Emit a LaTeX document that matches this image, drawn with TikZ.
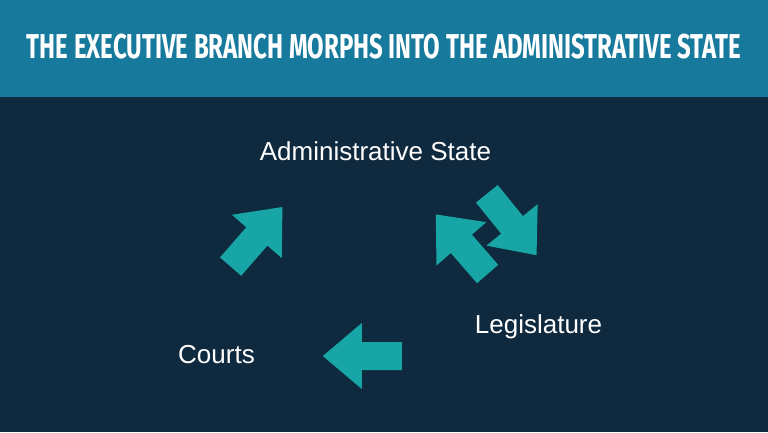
\documentclass[tikz,border=0pt]{standalone}
\usepackage{fontspec}
\setmainfont{Liberation Sans}
\newfontfamily\titlefont{Fira Sans}
\usepackage{graphicx}
\usetikzlibrary{positioning}
\definecolor{bannerblue}{HTML}{17799C}
\definecolor{navybg}{HTML}{0F2A3E}
\definecolor{arrowteal}{HTML}{18A5A5}

\begin{document}
\begin{tikzpicture}[x=1pt,y=-1pt,
  branch/.style={text=white,font=\fontsize{26}{30}\selectfont,anchor=base,inner sep=0pt},
  blockarrow/.style={fill=arrowteal,draw=none}]
\useasboundingbox (0,0) rectangle (768,432);
\fill[navybg] (0,0) rectangle (768,432);
\fill[bannerblue] (0,0) rectangle (768,97);
\node[text=white,inner sep=0pt] (title) at (384,47) {\resizebox{714pt}{24.5pt}{\titlefont\bfseries THE EXECUTIVE BRANCH MORPHS INTO THE ADMINISTRATIVE STATE}};
% labels
\node[branch] (admin) at (375.5,160) {Administrative State};
\node[branch] (legis) at (538.5,333) {Legislature};
\node[branch] (courts) at (216.5,363) {Courts};
% block arrows: centre x / centre y / direction
\foreach \cx/\cy/\ang in {256.5/236.8/49, 461.7/244.2/131, 511.7/224.5/-51, 362.3/356/180}
  \fill[blockarrow,shift={(\cx,\cy)},rotate=\ang] (-39.5,-14) -- (0.5,-14) -- (0.5,-33) -- (39.5,0) -- (0.5,33) -- (0.5,14) -- (-39.5,14) -- cycle;
\end{tikzpicture}
\end{document}
